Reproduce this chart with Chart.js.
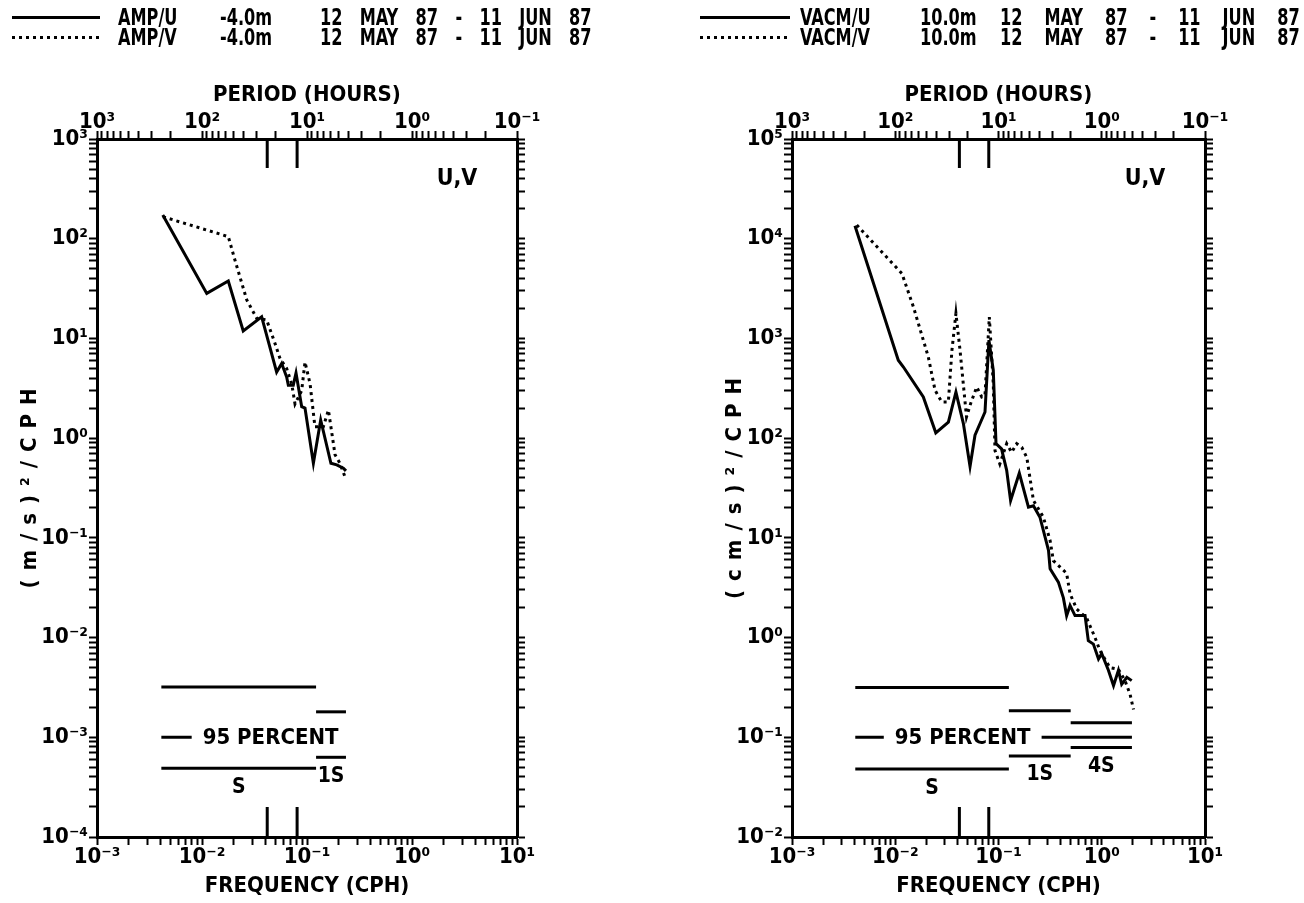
<!DOCTYPE html>
<html>
<head>
<meta charset="utf-8">
<script src="https://cdn.jsdelivr.net/npm/chart.js@4.4.1/dist/chart.umd.min.js"></script>
<style>
  body { margin: 0; background: #fff; }
  #page { position: relative; width: 1304px; height: 903px; overflow: hidden; }
  #page canvas { position: absolute; top: 0; }
  .key { position: absolute; font: bold 23px 'Liberation Sans Narrow', 'DejaVu Sans Condensed', sans-serif;
         white-space: pre; line-height: 20px; color: #000; transform: scaleX(0.78); transform-origin: 0 0; }
  .date { word-spacing: 15px; }
  .swatch { position: absolute; height: 3px; background: #000; }
  .swatch.dot { background: repeating-linear-gradient(90deg, #000 0 3px, transparent 3px 7px); }
</style>
</head>
<body>
<div id="page">
  <canvas id="amp" width="652" height="903" style="left:0"></canvas>
  <canvas id="vacm" width="652" height="903" style="left:652px"></canvas>

  <div class="swatch" style="left:12px;top:16px;width:88px"></div>
  <div class="swatch dot" style="left:12px;top:36px;width:88px"></div>
  <div class="key" style="left:118px;top:7px">AMP/U</div>
  <div class="key" style="left:220px;top:7px">-4.0m</div>
  <div class="key date" style="left:320px;top:7px">12 MAY 87 - 11 JUN 87</div>
  <div class="key" style="left:118px;top:27px">AMP/V</div>
  <div class="key" style="left:220px;top:27px">-4.0m</div>
  <div class="key date" style="left:320px;top:27px">12 MAY 87 - 11 JUN 87</div>

  <div class="swatch" style="left:700px;top:16px;width:90px"></div>
  <div class="swatch dot" style="left:700px;top:36px;width:90px"></div>
  <div class="key" style="left:800px;top:7px">VACM/U</div>
  <div class="key" style="left:920px;top:7px">10.0m</div>
  <div class="key date" style="left:1000px;top:7px;word-spacing:21px">12 MAY 87 - 11 JUN 87</div>
  <div class="key" style="left:800px;top:27px">VACM/V</div>
  <div class="key" style="left:920px;top:27px">10.0m</div>
  <div class="key date" style="left:1000px;top:27px;word-spacing:21px">12 MAY 87 - 11 JUN 87</div>
</div>
<script>
  // Spectra of the AMP (-4.0m) and VACM (10.0m) current records, 12 May - 11 Jun 1987
  const FONT = "'Liberation Sans Narrow', 'DejaVu Sans Condensed', sans-serif";
  Chart.defaults.font.family = FONT;
  Chart.defaults.font.weight = 'bold';
  Chart.defaults.color = '#000';

  // frequency (CPH) and spectral density for each series
  const ampFreqU = [0.00423, 0.0111, 0.0178, 0.0247, 0.037, 0.0514, 0.0574, 0.064, 0.0664, 0.074, 0.0786,
                    0.089, 0.0957, 0.115, 0.135, 0.169, 0.192, 0.222, 0.235];
  const ampSpecU = [173, 28.3, 37.7, 11.9, 16.5, 4.6, 5.6, 4.1, 3.4, 3.4, 4.5,
                    2.07, 2.0, 0.56, 1.52, 0.56, 0.54, 0.50, 0.47];
  const ampFreqV = [0.00425, 0.0178, 0.0206, 0.0267, 0.0332, 0.0413, 0.0496, 0.0553, 0.064, 0.0715, 0.0769,
                    0.089, 0.0957, 0.107, 0.119, 0.143, 0.16, 0.185, 0.206, 0.23];
  const ampSpecV = [166, 105, 61, 24.3, 15.9, 15.3, 8.9, 6.3, 5.0, 3.5, 2.2,
                    3.0, 5.8, 3.5, 1.30, 1.30, 1.91, 0.68, 0.56, 0.41];

  const vacmFreqU = [0.00407, 0.0107, 0.012, 0.0187, 0.0247, 0.0327, 0.0387, 0.0457, 0.053, 0.0592, 0.074,
                     0.0808, 0.089, 0.0946, 0.107, 0.12, 0.131, 0.159, 0.195, 0.218, 0.252, 0.305, 0.316,
                     0.38, 0.425, 0.457, 0.493, 0.551, 0.689, 0.741, 0.83, 0.93, 1.0, 1.16, 1.30, 1.45,
                     1.56, 1.75, 1.95];
  const vacmSpecU = [13500, 604, 517, 259, 113, 145, 290, 140, 52, 107, 183,
                     960, 480, 88, 78, 47.5, 23.7, 44.7, 20.3, 21, 16.1, 7.5, 4.9,
                     3.6, 2.5, 1.66, 2.1, 1.66, 1.66, 0.93, 0.86, 0.61, 0.69, 0.47, 0.33, 0.47,
                     0.34, 0.40, 0.37];
  const vacmFreqV = [0.00424, 0.0116, 0.015, 0.0209, 0.0243, 0.0282, 0.0327, 0.0354, 0.0387, 0.0424, 0.049,
                     0.0537, 0.0615, 0.0688, 0.074, 0.0815, 0.089, 0.0925, 0.103, 0.12, 0.134, 0.15,
                     0.168, 0.188, 0.218, 0.272, 0.316, 0.34, 0.457, 0.493, 0.571, 0.714, 0.861, 0.96,
                     1.2, 1.45, 1.68, 1.88, 2.03];
  const vacmSpecV = [13700, 4480, 2070, 652, 302, 231, 231, 762, 1780, 762, 163,
                     222, 326, 259, 270, 1640, 352, 75, 55, 88, 72, 88,
                     81, 64, 23.7, 16.1, 9.4, 5.9, 4.4, 2.75, 1.94, 1.57, 1.0, 0.74,
                     0.50, 0.48, 0.37, 0.27, 0.19];

  // diurnal and semidiurnal tidal frequencies marked on the frame
  const tidalFreq = [0.0418, 0.0805];

  // 95 percent confidence bars per band-averaging interval
  const ampBandEdges = [0.0041, 0.122, 0.235];
  const ampBandUpper = [3.2e-3, 1.8e-3];
  const ampBandLower = [4.9e-4, 6.3e-4];
  const ampBandNames = ['S', '1S'];
  const ampBandRef = 1e-3;

  const vacmBandEdges = [0.0041, 0.126, 0.50, 1.96];
  const vacmBandUpper = [0.315, 0.185, 0.14];
  const vacmBandLower = [0.048, 0.065, 0.079];
  const vacmBandNames = ['S', '1S', '4S'];
  const vacmBandRef = 0.1;

  const freqRange = [1e-3, 1e1];
  const ampRange = [1e-4, 1e3];
  const vacmRange = [1e-2, 1e5];

  const SUP = {'-': '⁻', '0': '⁰', '1': '¹', '2': '²', '3': '³', '4': '⁴', '5': '⁵'};
  const pow10Label = v => {
    const e = Math.log10(v), r = Math.round(e);
    if (Math.abs(e - r) > 1e-6) return '';
    return '10' + String(r).split('').map(c => SUP[c]).join('');
  };

  const decades = (lo, hi) => {
    const out = [];
    for (let e = Math.round(Math.log10(lo)); e < Math.round(Math.log10(hi)); e++)
      for (let m = 1; m < 10; m++) out.push(m * Math.pow(10, e));
    out.push(hi);
    return out;
  };
  // frequencies of period ticks (m * 10^k hours)
  const periodTicks = (lo, hi) => decades(1 / hi, 1 / lo).map(p => 1 / p).sort((a, b) => a - b);

  const pts = (fs, vs) => fs.map((f, i) => ({x: f, y: vs[i]}));
  const seg = (f0, f1, v) => ({data: [{x: f0, y: v}, {x: f1, y: v}], borderColor: '#000', borderWidth: 3, pointRadius: 0});

  function bandSets(edges, upper, lower, ref) {
    const sets = [];
    upper.forEach((u, i) => {
      sets.push(seg(edges[i], edges[i + 1], u));
      sets.push(seg(edges[i], edges[i + 1], lower[i]));
    });
    sets.push(seg(edges[0], edges[edges.length - 1], ref));
    return sets;
  }

  function axis(pos, range, ticks, label, size, pad, title) {
    return {
      type: 'logarithmic', position: pos, axis: (pos === 'top' || pos === 'bottom') ? 'x' : 'y',
      min: range[0], max: range[1],
      border: {display: true, color: '#000', width: 3},
      grid: {drawOnChartArea: false, drawTicks: true, tickLength: 8, color: '#000', tickWidth: 2},
      ticks: {autoSkip: false, maxRotation: 0, minRotation: 0, padding: pad, font: {size: 22}, callback: label},
      afterBuildTicks: s => { s.ticks = ticks.map(v => ({value: v})); },
      afterFit: s => { if (s.isHorizontal()) s.height = size; else s.width = size; },
      title: title || {display: false}
    };
  }

  const annot = {
    id: 'annot',
    afterDatasetsDraw(chart, args, o) {
      const {ctx, chartArea: a, scales: {x, y}} = chart;
      ctx.save();
      ctx.strokeStyle = '#000';
      ctx.lineWidth = 3;
      tidalFreq.forEach(f => {
        const px = x.getPixelForValue(f);
        ctx.beginPath();
        ctx.moveTo(px, a.top); ctx.lineTo(px, a.top + 29);
        ctx.moveTo(px, a.bottom); ctx.lineTo(px, a.bottom - 30);
        ctx.stroke();
      });

      ctx.font = 'bold 22px ' + FONT;
      ctx.textAlign = 'center';
      ctx.textBaseline = 'middle';
      const tx = x.getPixelForValue(0.045), ty = y.getPixelForValue(o.ref);
      const w = ctx.measureText('95 PERCENT').width;
      ctx.fillStyle = '#fff';
      ctx.fillRect(tx - w / 2 - 11, ty - 7, w + 22, 14);
      ctx.fillStyle = '#000';
      ctx.fillText('95 PERCENT', tx, ty + 1);

      ctx.font = 'bold 21px ' + FONT;
      o.names.forEach((n, i) => {
        const mx = (x.getPixelForValue(o.edges[i]) + x.getPixelForValue(o.edges[i + 1])) / 2;
        ctx.fillText(n, mx, y.getPixelForValue(o.lower[i]) + 19);
      });

      ctx.font = 'bold 23px ' + FONT;
      ctx.fillText('U,V', a.right - 60, a.top + 40);

      // spaced-out vertical axis title
      ctx.translate(o.titleX, (a.top + a.bottom) / 2);
      ctx.rotate(-Math.PI / 2);
      ctx.font = 'bold 22px ' + FONT;
      ctx.letterSpacing = '9px';
      ctx.fillText(o.title, 4, 0);
      ctx.restore();
    }
  };

  function panel(id, specU, specV, bands, yRange, widths) {
    new Chart(document.getElementById(id), {
      type: 'line',
      data: {
        datasets: [
          {data: specU, borderColor: '#000', borderWidth: 3, pointRadius: 0, tension: 0},
          {data: specV, borderColor: '#000', borderWidth: 3, borderDash: [3, 4], pointRadius: 0, tension: 0},
          ...bandSets(bands.edges, bands.upper, bands.lower, bands.ref)
        ]
      },
      options: {
        responsive: false,
        animation: false,
        events: [],
        layout: {padding: 0},
        plugins: {legend: {display: false}, tooltip: {enabled: false}, annot: bands},
        scales: {
          x: axis('bottom', freqRange, decades(...freqRange), pow10Label, 66, -1,
                  {display: true, text: 'FREQUENCY (CPH)', font: {size: 22}, padding: {top: 0, bottom: 4}}),
          x2: axis('top', freqRange, periodTicks(...freqRange), v => pow10Label(1 / v), 139, -4,
                   {display: true, text: 'PERIOD (HOURS)', font: {size: 22}, padding: {top: 82, bottom: 0}}),
          y: axis('left', yRange, decades(...yRange), pow10Label, widths[0], 1),
          y2: axis('right', yRange, decades(...yRange), () => '', widths[1], 0)
        }
      },
      plugins: [annot]
    });
  }

  panel('amp', pts(ampFreqU, ampSpecU), pts(ampFreqV, ampSpecV),
        {edges: ampBandEdges, upper: ampBandUpper, lower: ampBandLower, names: ampBandNames, ref: ampBandRef,
         title: '(m/s)²/CPH', titleX: 30},
        ampRange, [97, 135]);
  panel('vacm', pts(vacmFreqU, vacmSpecU), pts(vacmFreqV, vacmSpecV),
        {edges: vacmBandEdges, upper: vacmBandUpper, lower: vacmBandLower, names: vacmBandNames, ref: vacmBandRef,
         title: '(cm/s)²/CPH', titleX: 83},
        vacmRange, [140, 99]);
</script>
</body>
</html>
